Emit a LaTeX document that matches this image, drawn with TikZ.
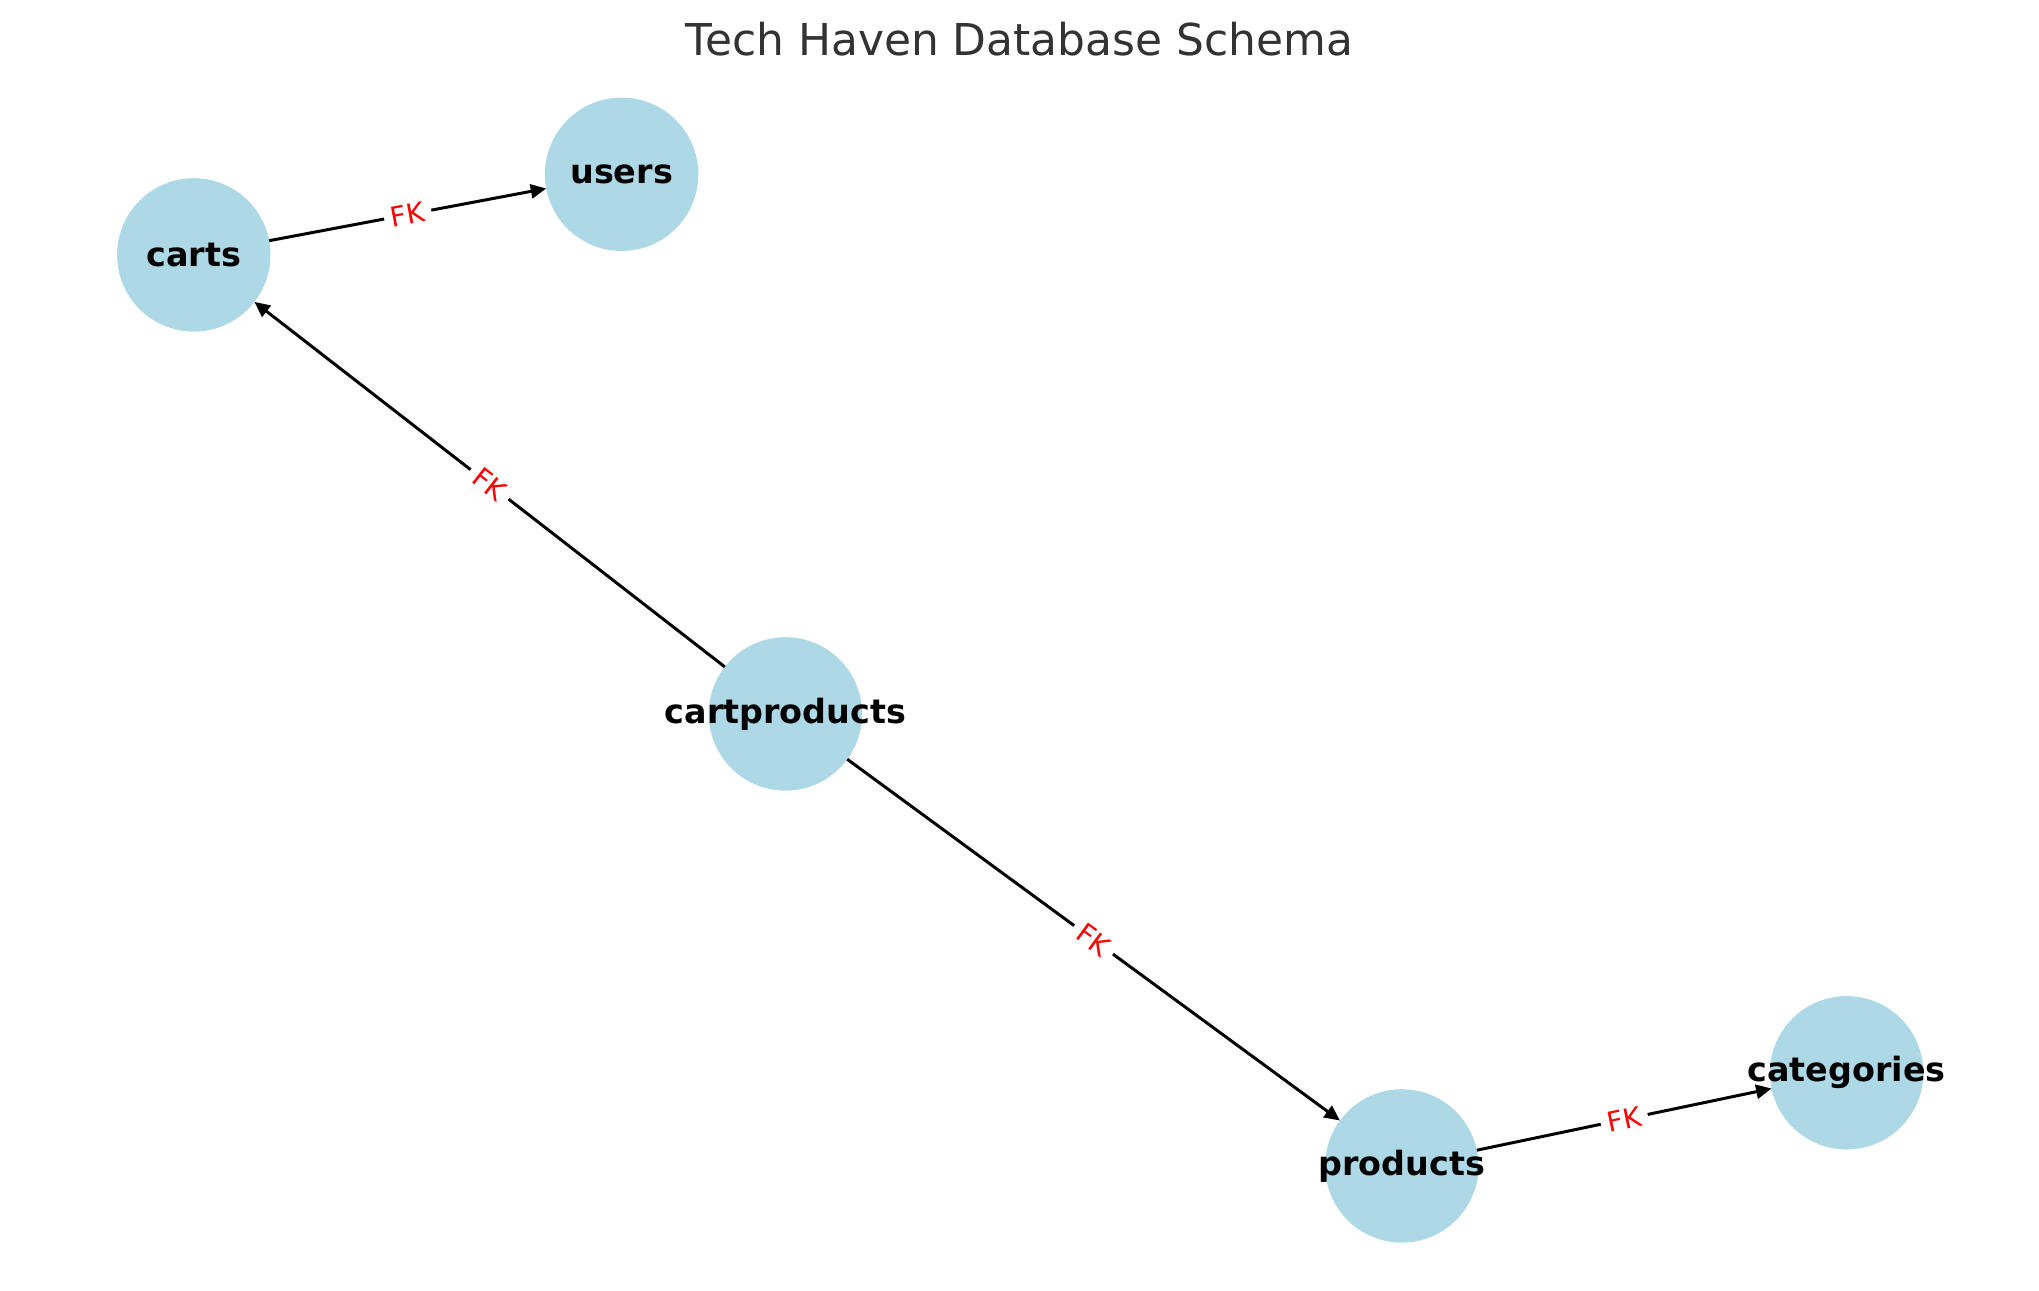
\documentclass[tikz,border=0pt]{standalone}
\usepackage{fontspec}
\setmainfont{DejaVu Sans}
\usetikzlibrary{arrows.meta, positioning}
\usepackage{xcolor}
\definecolor{NodeFill}{HTML}{ADD8E6}
\definecolor{TitleText}{HTML}{333333}
\definecolor{KeyRed}{HTML}{FF0000}

\begin{document}
\begin{tikzpicture}[
            table/.style={circle, fill=NodeFill, draw=none, minimum size=1.534cm, inner sep=0pt, outer sep=0pt},
            tname/.style={font=\fontsize{9.5}{11}\selectfont\bfseries, text=black},
            fk/.style={-{Triangle[length=4.4pt, width=4pt]}, line width=0.85pt, color=black},
            lbl/.style={font=\fontsize{7.8}{9}\selectfont, text=KeyRed, fill=white, inner sep=2pt, sloped, pos=0.5}
        ]
            \useasboundingbox (0,0) rectangle (20.39,12.90);

            % Title
            \node[font=\fontsize{12.5}{15}\selectfont, text=TitleText] (title) at (10.195,12.51) {Tech Haven Database Schema};

            % Tables
            \node[table, label={[tname]center:users}] (users) at (6.216,11.157) {};
            \node[table, label={[tname]center:carts}] (carts) at (1.938,10.351) {};
            \node[table, label={[tname]center:cartproducts}] (cartproducts) at (7.854,5.761) {};
            \node[table, label={[tname]center:products}] (products) at (14.018,1.241) {};
            \node[table, label={[tname]center:categories}] (categories) at (18.466,2.172) {};

            % Foreign keys
            \draw[fk] (carts) -- node[lbl]{FK} (users);
            \draw[fk] (cartproducts) -- node[lbl]{FK} (carts);
            \draw[fk] (cartproducts) -- node[lbl]{FK} (products);
            \draw[fk] (products) -- node[lbl]{FK} (categories);
        \end{tikzpicture}
\end{document}
